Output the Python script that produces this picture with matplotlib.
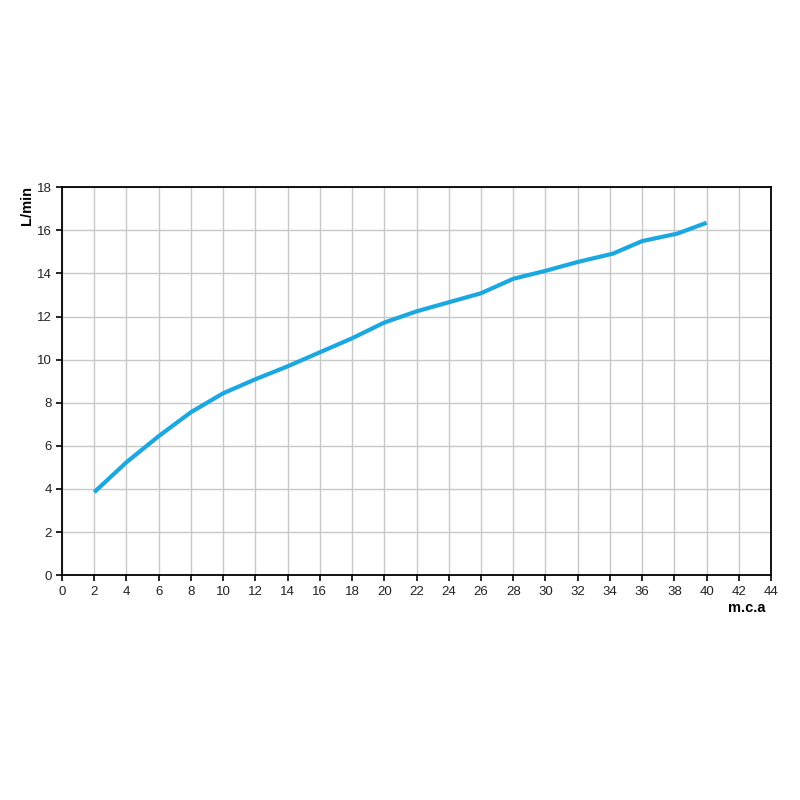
import matplotlib
matplotlib.use("Agg")
import matplotlib.pyplot as plt

# pressure (m.c.a) vs flow (L/min)
pressure = [2, 4, 6, 8, 10, 12, 14, 16, 18, 20, 22, 24, 26, 28, 30, 32, 34.2, 36, 38.2, 40]
flow = [3.85, 5.24, 6.45, 7.56, 8.44, 9.09, 9.69, 10.34, 10.99, 11.72, 12.24, 12.66,
        13.08, 13.75, 14.12, 14.53, 14.92, 15.5, 15.85, 16.35]

x_ticks = list(range(0, 45, 2))
y_ticks = list(range(0, 19, 2))

plt.rcParams["font.family"] = ["Liberation Sans", "DejaVu Sans"]

fig = plt.figure(figsize=(8, 8), dpi=100)
ax = fig.add_axes([0.0775, 0.281, 0.8863, 0.485])

ax.plot(pressure, flow, color="#1ba8e0", lw=3, solid_capstyle="butt")

ax.set_xlim(0, 44)
ax.set_ylim(0, 18)
ax.set_xticks(x_ticks)
ax.set_yticks(y_ticks)
ax.grid(True, color="#c8c8c8", lw=1)
ax.set_axisbelow(True)
ax.tick_params(direction="out", length=4, width=1.2, labelsize=9.5,
               color="black", labelcolor="#222222")
for sp in ax.spines.values():
    sp.set_color("black")
    sp.set_linewidth(1.3)

fig.text(0.034, 0.768, "L/min", rotation=90, fontsize=10.5, fontweight="bold",
         ha="center", va="top")
fig.text(0.934, 0.24, "m.c.a", fontsize=10.5, fontweight="bold", ha="center", va="center")

fig.savefig("out.png", dpi=100)
